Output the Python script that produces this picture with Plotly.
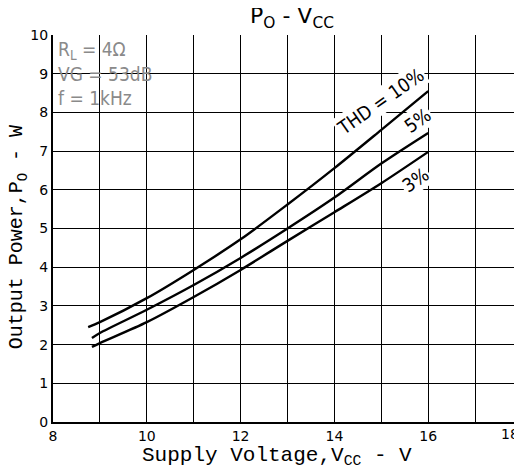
import plotly.graph_objects as go

# Data
vcc_10 = [8.75, 9, 10, 11, 12, 13, 14, 15, 16]
po_10 = [2.45, 2.58, 3.2, 3.93, 4.72, 5.62, 6.56, 7.55, 8.55]
vcc_5 = [8.83, 9, 10, 11, 12, 13, 14, 15, 16]
po_5 = [2.17, 2.3, 2.9, 3.54, 4.24, 5.0, 5.8, 6.68, 7.47]
vcc_3 = [8.83, 9, 10, 11, 12, 13, 14, 15, 16]
po_3 = [1.94, 2.04, 2.58, 3.23, 3.93, 4.68, 5.42, 6.17, 6.98]

x_ticks = [8, 9, 10, 11, 12, 13, 14, 15, 16, 17, 18]
x_labels = ["8", "", "10", "", "12", "", "14", "", "16", "", ""]
y_ticks = [0, 1, 2, 3, 4, 5, 6, 7, 8, 9, 10]

fig = go.Figure()
for xs, ys in [(vcc_10, po_10), (vcc_5, po_5), (vcc_3, po_3)]:
    fig.add_trace(go.Scatter(x=xs, y=ys, mode="lines",
                             line=dict(color="black", width=2.4, shape="spline", smoothing=0.8),
                             showlegend=False, hoverinfo="skip"))

ann_font = dict(family="DejaVu Sans Condensed", size=19, color="black")
fig.add_annotation(x=14.99, y=8.29, text="THD = 10%", showarrow=False, textangle=-35,
                   font=ann_font, bgcolor="white")
fig.add_annotation(x=15.78, y=7.8, text="5%", showarrow=False, textangle=-35,
                   font=ann_font, bgcolor="white")
fig.add_annotation(x=15.72, y=6.25, text="3%", showarrow=False, textangle=-35,
                   font=ann_font, bgcolor="white")

cond_font = dict(family="DejaVu Sans Condensed", size=19, color="#8a8a8a")
fig.add_annotation(xref="paper", yref="paper", x=0.006, y=0.997, xanchor="left", yanchor="top",
                   align="left", showarrow=False, font=cond_font,
                   text="R<sub>L</sub> = 4Ω<br>VG = 53dB<br>f = 1kHz")

fig.add_annotation(xref="paper", yref="paper", x=0.51, y=1.045, xanchor="center", yanchor="middle",
                   showarrow=False, text="P<sub>O</sub> - V<sub>CC</sub>",
                   font=dict(family="DejaVu Sans", size=22, color="black"))

fig.add_annotation(xref="paper", yref="paper", x=-0.076, y=0.478, textangle=-90,
                   xanchor="center", yanchor="middle",
                   showarrow=False, text="Output Power,P<sub>O</sub> - W",
                   font=dict(family="Liberation Mono", size=20, color="black"))
fig.add_annotation(xref="paper", yref="paper", x=0.478, y=-0.088, xanchor="center", yanchor="middle",
                   showarrow=False, text="Supply Voltage,V<sub>CC</sub> - V",
                   font=dict(family="Liberation Mono", size=21, color="black"))
fig.add_annotation(xref="paper", yref="paper", x=0.974, y=-0.005, xanchor="center", yanchor="top",
                   showarrow=False, text="18",
                   font=dict(family="DejaVu Sans", size=14, color="black"))

fig.update_xaxes(range=[8, 18], tickvals=x_ticks, ticktext=x_labels, showgrid=True,
                 gridcolor="black", gridwidth=1, showline=True, linecolor="black", linewidth=2,
                 ticks="", zeroline=False, automargin=False,
                 tickfont=dict(family="DejaVu Sans", size=14, color="black"))
fig.update_yaxes(range=[0, 10], tickvals=y_ticks, showgrid=True, gridcolor="black", gridwidth=1,
                 showline=True, linecolor="black", linewidth=2, ticks="", zeroline=False,
                 automargin=False,
                 tickfont=dict(family="DejaVu Sans", size=14, color="black"))

# The page puts the figure 8px in from the top-left corner, so the figure is sized to fit.
fig.update_layout(width=514, height=462, margin=dict(l=45, r=0, t=27, b=48, autoexpand=False),
                  plot_bgcolor="white", paper_bgcolor="white")

fig.write_html("out.html")
